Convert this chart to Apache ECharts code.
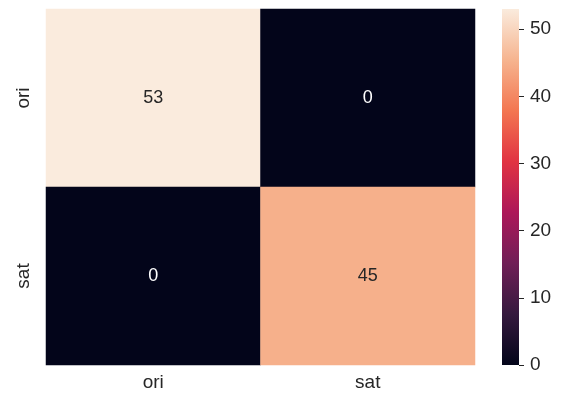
<!DOCTYPE html>
<html>
<head>
<meta charset="utf-8">
<script src="https://cdn.jsdelivr.net/npm/echarts@6/dist/echarts.min.js"></script>
<style>
  html, body { margin: 0; padding: 0; background: #fff; }
  #chart { width: 563px; height: 394px; }
</style>
</head>
<body>
<div id="chart"></div>
<script>
// 数据
var rowLabels = ['ori', 'sat'];
var colLabels = ['ori', 'sat'];
var matrix = [
  [53, 0],
  [0, 45]
];
var colorbarTicks = [0, 10, 20, 30, 40, 50];
var vmin = 0;
var vmax = 53;

// rocket colormap
var rocket = ['#03051a', '#35193e', '#701f57', '#ad1759', '#e13342', '#f37651', '#f6b48f', '#faebdd'];

var cells = [];
for (var r = 0; r < rowLabels.length; r++) {
  for (var c = 0; c < colLabels.length; c++) {
    var v = matrix[r][c];
    cells.push({
      value: [c, r, v],
      label: { color: v > vmax * 0.5 ? '#262626' : '#ffffff' }
    });
  }
}

var gradStops = rocket.map(function (col, i) {
  return { offset: 1 - i / (rocket.length - 1), color: col };
});

var font = 'Liberation Sans, Arial, sans-serif';

var myChart = echarts.init(document.getElementById('chart'));
myChart.setOption({
  backgroundColor: '#fff',
  animation: false,
  grid: [
    { left: 46, right: 88, top: 9, bottom: 29 },
    { left: 502, width: 17, top: 9, bottom: 29 }
  ],
  xAxis: [
    {
      type: 'category', gridIndex: 0, data: colLabels,
      axisLine: { show: false }, axisTick: { show: false }, splitLine: { show: false },
      axisLabel: { fontSize: 19, color: '#262626', fontFamily: font, margin: 8 }
    },
    {
      type: 'category', gridIndex: 1, data: [''],
      axisLine: { show: false }, axisTick: { show: false }, axisLabel: { show: false }
    }
  ],
  yAxis: [
    {
      type: 'category', gridIndex: 0, data: rowLabels, inverse: true,
      axisLine: { show: false }, axisTick: { show: false }, splitLine: { show: false },
      axisLabel: { fontSize: 19, color: '#262626', fontFamily: font, rotate: 90, margin: 13 }
    },
    {
      type: 'value', gridIndex: 1, position: 'right', min: vmin, max: vmax,
      interval: 10,
      axisLine: { show: false },
      axisTick: { show: true, inside: false, length: 5, lineStyle: { color: '#262626', width: 1 } },
      splitLine: { show: false },
      axisLabel: {
        fontSize: 19, color: '#262626', fontFamily: font, margin: 11,
        showMaxLabel: false,
        formatter: function (v) { return colorbarTicks.indexOf(v) >= 0 ? String(v) : ''; }
      }
    }
  ],
  visualMap: {
    show: false,
    seriesIndex: 0,
    min: vmin,
    max: vmax,
    inRange: { color: rocket }
  },
  series: [
    {
      type: 'heatmap',
      xAxisIndex: 0, yAxisIndex: 0,
      data: cells,
      label: {
        show: true, fontSize: 18, fontFamily: font,
        formatter: function (p) { return p.value[2]; }
      },
      itemStyle: { borderWidth: 0 },
      emphasis: { disabled: true }
    },
    {
      type: 'bar',
      xAxisIndex: 1, yAxisIndex: 1,
      data: [vmax],
      barWidth: '100%',
      silent: true,
      itemStyle: { color: new echarts.graphic.LinearGradient(0, 0, 0, 1, gradStops.reverse()) }
    }
  ]
});
</script>
</body>
</html>
